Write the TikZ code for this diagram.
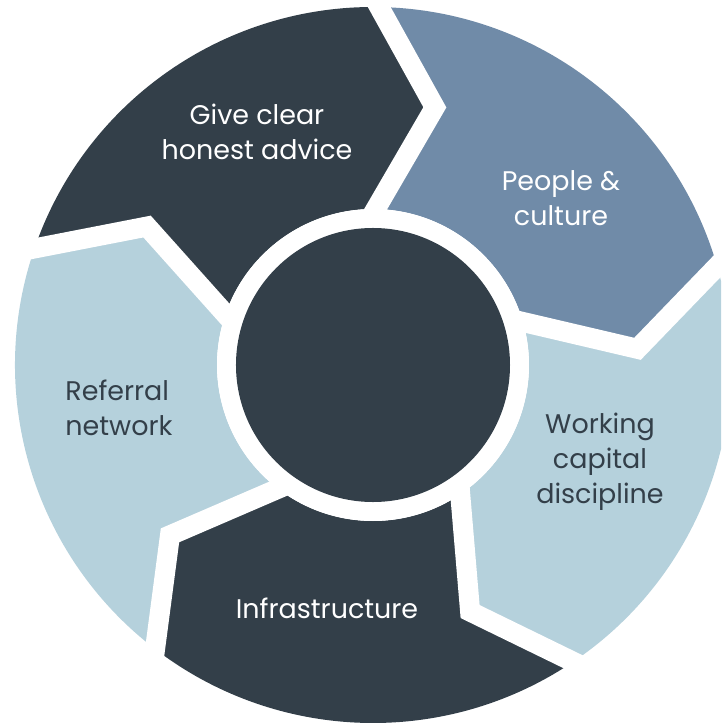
\documentclass[tikz,border=0pt]{standalone}
\usepackage{fontspec}
\setmainfont{Poppins}
\usepackage{tikz}
\usetikzlibrary{positioning, calc}
\definecolor{slate}{HTML}{333F49}
\definecolor{steel}{HTML}{708BA8}
\definecolor{pale}{HTML}{B5D1DC}
\tikzset{
	x=0.03cm, y=0.03cm, % one unit is one pixel of the layout
	sector/.style={fill=#1}, % fill of one ring sector
	gap/.style={draw=white, line width=0.6cm, line join=miter}, % white cut between two sectors
	sectortext/.style={align=center, font=\fontsize{23}{30}\selectfont, text=#1}, % sector caption
}

\begin{document}
\begin{tikzpicture}
	\useasboundingbox (-373,-359) rectangle (348,365);
	\clip (-373,-359) rectangle (348,365);
	% the five sectors, each one pointing clockwise into the next
	\foreach \b/\e/\col in {161/89/slate, 89/16/steel, 16/-56/pale, -56/-127.5/slate, 232.5/161/pale}
		\fill[sector=\col] (\b:358) arc[start angle=\b, end angle=\e, radius=358]
			-- (\e-12.5:265) -- (\e:156)
			arc[start angle=\e, end angle=\b, radius=156]
			-- (\b-12.5:265) -- cycle;
	% white cuts, run on past both rims along the sector edges
	\foreach \b in {161, 89, 16, -56, 232.5}
		\draw[gap] ($(\b-12.5:265)!1.3!(\b:156)$) -- (\b-12.5:265)
			-- ($(\b-12.5:265)!1.3!(\b:358)$);
	\fill[white] (0,0) circle[radius=156];
	\node[circle, fill=slate, minimum size=8.22cm, inner sep=0pt] (hub) at (0,0) {};
	\node[sectortext=white] (advice) at (-116,233) {Give clear\\honest advice};
	\node[sectortext=white] (people) at (188,167) {People \&\\culture};
	\node[sectortext=slate] (capital) at (227,-97) {Working\\capital\\discipline};
	\node[sectortext=white] (infra) at (-46,-243) {Infrastructure};
	\node[sectortext=slate, align=left] (referral) at (-254,-43) {Referral\\network};
\end{tikzpicture}
\end{document}
